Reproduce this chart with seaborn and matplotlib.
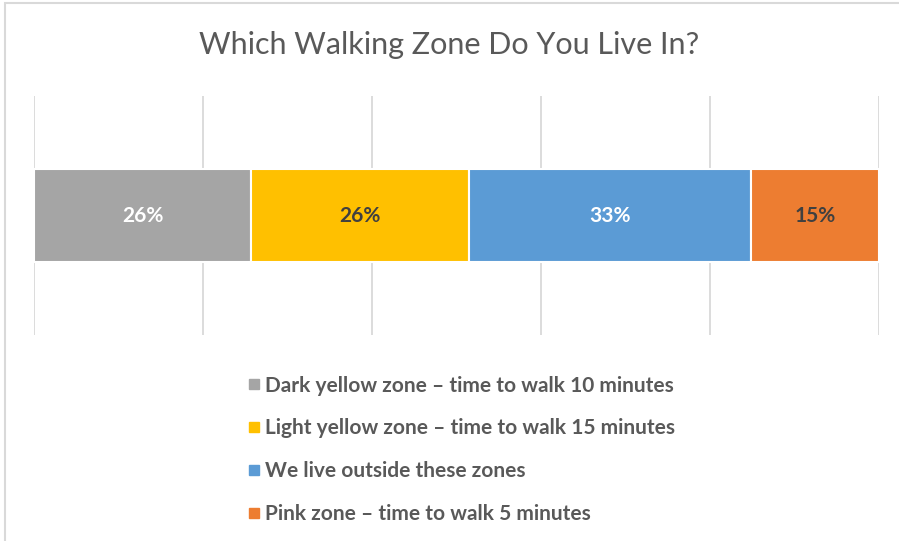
import numpy as np
import seaborn as sns
from matplotlib import pyplot as plt
from matplotlib.lines import Line2D
from matplotlib.patches import Rectangle

zones = ["Dark yellow zone \u2013 time to walk 10 minutes",
         "Light yellow zone \u2013 time to walk 15 minutes",
         "We live outside these zones",
         "Pink zone \u2013 time to walk 5 minutes"]
shares = [25.7, 25.8, 33.4, 15.1]
colors = ["#A5A5A5", "#FFC000", "#5B9BD5", "#ED7D31"]
label_colors = ["white", "#404040", "white", "#404040"]
ticks = [0, 20, 40, 60, 80, 100]

sns.set_theme(style="white")
plt.rcParams['font.family'] = ['Lato', 'DejaVu Sans']

fig = plt.figure(figsize=(8.99, 5.41), dpi=100)
ax = fig.add_axes([34 / 899, 1 - 335 / 541, 845 / 899, 239 / 541])

left = np.concatenate([[0], np.cumsum(shares)[:-1]])
for i, (z, v) in enumerate(zip(zones, shares)):
    bars = ax.barh([0], [v], left=[left[i]], height=0.39, color=colors[i],
                   edgecolor="white", linewidth=1.5, label=z, zorder=3)
    ax.bar_label(bars, labels=[f"{v:.0f}%"], label_type="center",
                 color=label_colors[i], fontsize=15, fontweight="bold")

ax.set_xlim(0, 100)
ax.set_ylim(-0.5, 0.5)
ax.set_xticks(ticks)
ax.set_yticks([])
ax.tick_params(axis="x", length=0, labelbottom=False)
ax.grid(axis="x", color="#D9D9D9", linewidth=1.3, zorder=0)
ax.set_axisbelow(True)
for s in ax.spines.values():
    s.set_visible(False)

fig.text(0.5, 1 - 45 / 541, "Which Walking Zone Do You Live In?",
         ha="center", va="center", fontsize=22, color="#595959")

handles = [Line2D([], [], marker="s", linestyle="", markersize=7.5,
                  color=c) for c in colors]
leg = fig.legend(handles, zones, loc="upper left",
                 bbox_to_anchor=(229 / 899, 1 - 357 / 541),
                 frameon=False, handlelength=0.6, handletextpad=0.25,
                 labelspacing=1.09, prop={"weight": "bold", "size": 15})
for t in leg.get_texts():
    t.set_color("#595959")

fig.patches.append(Rectangle((5 / 899, -0.1), 1.2, 1 - 3 / 541 + 0.1,
                             transform=fig.transFigure, fill=False,
                             edgecolor="#D9D9D9", linewidth=1.5))

fig.savefig("out.png", dpi=100)
